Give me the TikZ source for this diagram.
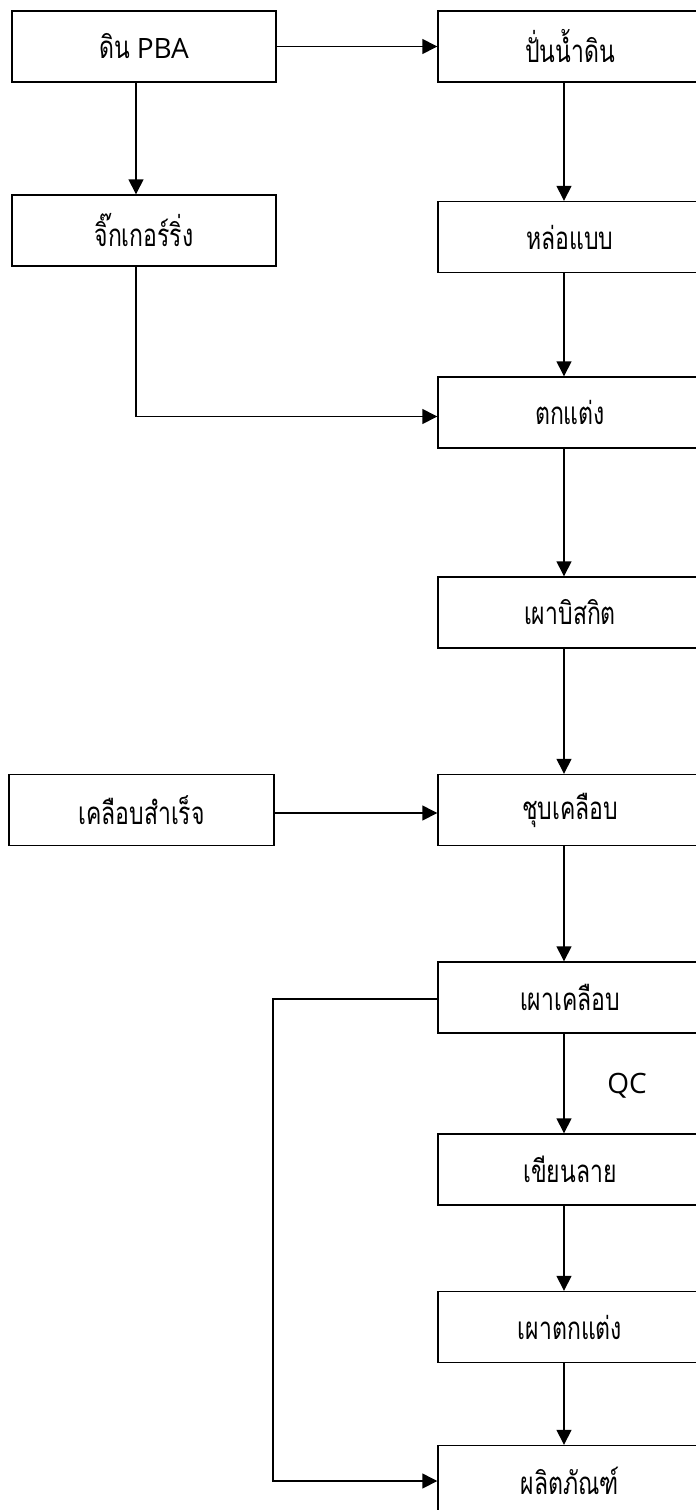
\documentclass[tikz,border=0pt]{standalone}
\usepackage{fontspec}
\setmainfont{Open Sans}
\newfontfamily\thaifont[Script=Thai]{Loma}
\usetikzlibrary{arrows.meta}
\newcommand{\tx}[1]{\scalebox{0.92}[1.25]{\thaifont\fontsize{25}{30}\selectfont #1}}
\tikzset{
  box/.style={draw=black, line width=1.4pt, fill=white, minimum width=264pt, minimum height=71pt, inner sep=0pt},
  conn/.style={line width=1.4pt, draw=black},
  arr/.style={conn, -{Triangle[length=15pt,width=15pt]}},
  lat/.style={font=\fontsize{28}{32}\selectfont}
}
\begin{document}
\begin{tikzpicture}[x=1pt,y=-1pt]
\useasboundingbox (0,0) rectangle (696,1510);
\clip (0,0) rectangle (696,1510);
\coordinate (cL) at (136,0);
\coordinate (cR) at (564,0);
\coordinate (cF) at (273,0);
\node[box] (a) at (144,46.5) {\tx{ดิน}\hspace{7pt}{\fontsize{28}{32}\selectfont PBA}};
\node[box] (b) at (570,46.5) {\tx{ปั่นน้ำดิน}};
\node[box] (jig) at (144,230.5) {\tx{จิ๊กเกอร์ริ่ง}};
\node[box] (mold) at (570,237) {\tx{หล่อแบบ}};
\node[box] (deco) at (570,412.5) {\tx{ตกแต่ง}};
\node[box] (bisc) at (570,612.5) {\tx{เผาบิสกิต}};
\node[box, minimum width=265pt] (glaze) at (141.5,810) {\tx{เคลือบสำเร็จ}};
\node[box] (dip) at (570,810) {\tx{ชุบเคลือบ}};
\node[box] (fire) at (570,997.5) {\tx{เผาเคลือบ}};
\node[box] (paint) at (570,1169.5) {\tx{เขียนลาย}};
\node[box] (firedeco) at (570,1327) {\tx{เผาตกแต่ง}};
\node[box] (prod) at (570,1481) {\tx{ผลิตภัณฑ์}};
\node[lat] (qc) at (627,1086) {QC};
\draw[arr] (a.east) -- (b.west);
\draw[arr] (a.south -| cL) -- (jig.north -| cL);
\draw[arr] (b.south -| cR) -- (mold.north -| cR);
\draw[arr] (mold.south -| cR) -- (deco.north -| cR);
\draw[arr] (jig.south -| cL) |- ([yshift=-4pt]deco.west);
\draw[arr] (deco.south -| cR) -- (bisc.north -| cR);
\draw[arr] (bisc.south -| cR) -- (dip.north -| cR);
\draw[arr] ([yshift=-3pt]glaze.east) -- ([yshift=-3pt]dip.west);
\draw[arr] (dip.south -| cR) -- (fire.north -| cR);
\draw[arr] (fire.south -| cR) -- (paint.north -| cR);
\draw[arr] (paint.south -| cR) -- (firedeco.north -| cR);
\draw[arr] (firedeco.south -| cR) -- (prod.north -| cR);
\draw[arr] ([yshift=-1.5pt]fire.west) -- ([yshift=-1.5pt]fire.west -| cF) |- (prod.west);
\end{tikzpicture}
\end{document}
